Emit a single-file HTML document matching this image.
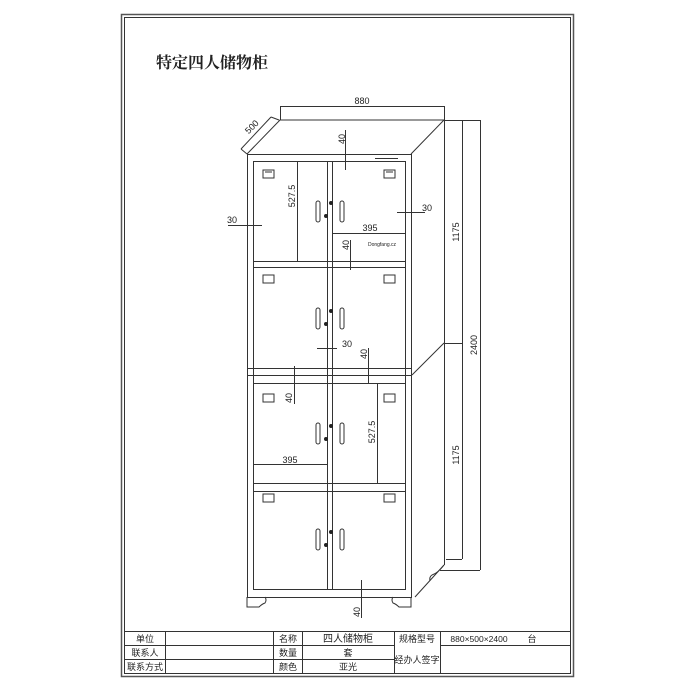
<!DOCTYPE html>
<html><head><meta charset="utf-8"><style>
html,body{margin:0;padding:0;background:#fff;width:700px;height:700px;overflow:hidden}
svg{display:block}
text{font-family:"Liberation Sans","Noto Sans CJK SC",sans-serif;fill:#222}
</style></head><body>
<svg width="700" height="700" viewBox="0 0 700 700" xmlns="http://www.w3.org/2000/svg">
<g fill="none" stroke="#333" stroke-width="1">
<!-- border -->
<rect x="121.5" y="14.5" width="452" height="662" stroke="#555" stroke-width="1.5"/>
<rect x="124.5" y="17.5" width="446" height="656"/>
<!-- table -->
<line x1="124" y1="631.5" x2="571" y2="631.5"/>
<line x1="124" y1="645.5" x2="394" y2="645.5"/>
<line x1="124" y1="659.5" x2="394" y2="659.5"/>
<line x1="165.5" y1="631" x2="165.5" y2="674"/>
<line x1="273.5" y1="631" x2="273.5" y2="674"/>
<line x1="302.5" y1="631" x2="302.5" y2="674"/>
<line x1="394.5" y1="631" x2="394.5" y2="674"/>
<line x1="440.5" y1="631" x2="440.5" y2="674"/>
<line x1="440" y1="645.5" x2="571" y2="645.5"/>
</g>
<g font-size="9" text-anchor="middle">
<text x="145" y="642">单位</text>
<text x="145" y="656">联系人</text>
<text x="145" y="670">联系方式</text>
<text x="288" y="642">名称</text>
<text x="288" y="656">数量</text>
<text x="288" y="670">颜色</text>
<text x="348" y="642" font-size="10">四人储物柜</text>
<text x="348" y="656">套</text>
<text x="348" y="670">亚光</text>
<text x="417" y="642">规格型号</text>
<text x="417" y="663">经办人签字</text>
<text x="479" y="642" font-size="8.5">880×500×2400</text>
<text x="532" y="642">台</text>
</g>
<text x="156" y="68" font-size="16" font-weight="bold" style="font-family:'Liberation Serif','Noto Serif CJK SC',serif">特定四人储物柜</text>

<g fill="none" stroke="#333" stroke-width="1">
<!-- top perspective -->
<polyline points="247,154 280,120 444,120 411,154"/>
<!-- right side -->
<line x1="444.5" y1="120" x2="444.5" y2="565"/>
<line x1="444" y1="343" x2="412" y2="375"/>
<line x1="444" y1="565" x2="415" y2="597"/>
<path d="M444 565 q-6 8 -12 10 q-3 2 -2 6"/>
<!-- front frame -->
<rect x="247.5" y="154.5" width="164" height="443"/>
<rect x="253.5" y="161.5" width="152" height="428"/>
<line x1="247" y1="368.5" x2="411" y2="368.5"/>
<line x1="247" y1="375.5" x2="411" y2="375.5"/>
<line x1="253" y1="261.5" x2="406" y2="261.5"/>
<line x1="253" y1="267.5" x2="406" y2="267.5"/>
<line x1="253" y1="383.5" x2="406" y2="383.5"/>
<line x1="253" y1="483.5" x2="406" y2="483.5"/>
<line x1="253" y1="491.5" x2="406" y2="491.5"/>
<line x1="327.5" y1="161" x2="327.5" y2="589"/>
<line x1="332.5" y1="161" x2="332.5" y2="589"/>
<!-- top section inner -->
<line x1="297.5" y1="161" x2="297.5" y2="261"/>
<line x1="333" y1="233.5" x2="406" y2="233.5"/>
<line x1="375" y1="158.5" x2="398" y2="158.5"/>
<!-- lower inner -->
<line x1="377.5" y1="383" x2="377.5" y2="483"/>
<line x1="253" y1="464.5" x2="327" y2="464.5"/>
<!-- feet -->
<path d="M247 597 v10 h12 q3 -3 6 -4 q2 -3 0 -6"/>
<path d="M411 597 v10 h-12 q-3 -3 -6 -4 q-2 -3 0 -6"/>
<!-- dims: 880 -->
<line x1="280" y1="106.5" x2="444" y2="106.5"/>
<line x1="280.5" y1="106" x2="280.5" y2="120"/>
<line x1="444.5" y1="106" x2="444.5" y2="120"/>
<!-- 500 -->
<line x1="241" y1="149" x2="271" y2="117"/>
<line x1="241" y1="149" x2="247" y2="154"/>
<line x1="271" y1="117" x2="279" y2="120"/>
<!-- right vertical dims -->
<line x1="444" y1="120.5" x2="480" y2="120.5"/>
<line x1="462.5" y1="120" x2="462.5" y2="559"/>
<line x1="480.5" y1="120" x2="480.5" y2="570"/>
<line x1="444" y1="343.5" x2="462" y2="343.5"/>
<line x1="446" y1="559.5" x2="462" y2="559.5"/>
<line x1="440" y1="570.5" x2="480" y2="570.5"/>
<!-- small dim lines -->
<line x1="345.5" y1="130" x2="345.5" y2="170"/>
<line x1="228" y1="225.5" x2="262" y2="225.5"/>
<line x1="397" y1="212.5" x2="425" y2="212.5"/>
<line x1="350.5" y1="240" x2="350.5" y2="270"/>
<line x1="317" y1="348.5" x2="337" y2="348.5"/>
<line x1="368.5" y1="348" x2="368.5" y2="384"/>
<line x1="294.5" y1="366" x2="294.5" y2="404"/>
<line x1="361.5" y1="580" x2="361.5" y2="618"/>
</g>
<!-- handles -->
<g fill="none" stroke="#333" stroke-width="1">
<path d="M263 170 h11 v8 h-11 z M265 172 h7"/>
<path d="M384 170 h11 v8 h-11 z M386 172 h7"/>
<path d="M263 275 h11 v8 h-11 z"/>
<path d="M384 275 h11 v8 h-11 z"/>
<path d="M263 394 h11 v8 h-11 z"/>
<path d="M384 394 h11 v8 h-11 z"/>
<path d="M263 491 h11 v8 h-11 z" transform="translate(0,3)"/>
<path d="M384 491 h11 v8 h-11 z" transform="translate(0,3)"/>
<rect x="316" y="201" width="4" height="21" rx="2"/>
<rect x="340" y="201" width="4" height="21" rx="2"/>
<rect x="316" y="308" width="4" height="21" rx="2"/>
<rect x="340" y="308" width="4" height="21" rx="2"/>
<rect x="316" y="423" width="4" height="21" rx="2"/>
<rect x="340" y="423" width="4" height="21" rx="2"/>
<rect x="316" y="529" width="4" height="21" rx="2"/>
<rect x="340" y="529" width="4" height="21" rx="2"/>
</g>
<g fill="#222">
<circle cx="331" cy="203" r="2"/><circle cx="326" cy="216" r="2"/>
<circle cx="331" cy="311" r="2"/><circle cx="326" cy="324" r="2"/>
<circle cx="331" cy="426" r="2"/><circle cx="326" cy="439" r="2"/>
<circle cx="331" cy="532" r="2"/><circle cx="326" cy="545" r="2"/>
</g>
<!-- dimension text -->
<g font-size="9" text-anchor="middle">
<text x="362" y="104">880</text>
<text x="0" y="0" transform="translate(254,129) rotate(-45)">500</text>
<text x="0" y="0" transform="translate(345,139) rotate(-90)">40</text>
<text x="0" y="0" transform="translate(295,196) rotate(-90)">527.5</text>
<text x="232" y="223">30</text>
<text x="427" y="211">30</text>
<text x="370" y="231">395</text>
<text x="0" y="0" transform="translate(349,245) rotate(-90)">40</text>
<text x="382" y="246" font-size="5">Dongfang.cz</text>
<text x="347" y="347">30</text>
<text x="0" y="0" transform="translate(367,354) rotate(-90)">40</text>
<text x="0" y="0" transform="translate(292,398) rotate(-90)">40</text>
<text x="0" y="0" transform="translate(375,432) rotate(-90)">527.5</text>
<text x="290" y="463">395</text>
<text x="0" y="0" transform="translate(360,612) rotate(-90)">40</text>
<text x="0" y="0" transform="translate(459,232) rotate(-90)">1175</text>
<text x="0" y="0" transform="translate(459,455) rotate(-90)">1175</text>
<text x="0" y="0" transform="translate(477,345) rotate(-90)">2400</text>
</g>
</svg>
</body></html>
